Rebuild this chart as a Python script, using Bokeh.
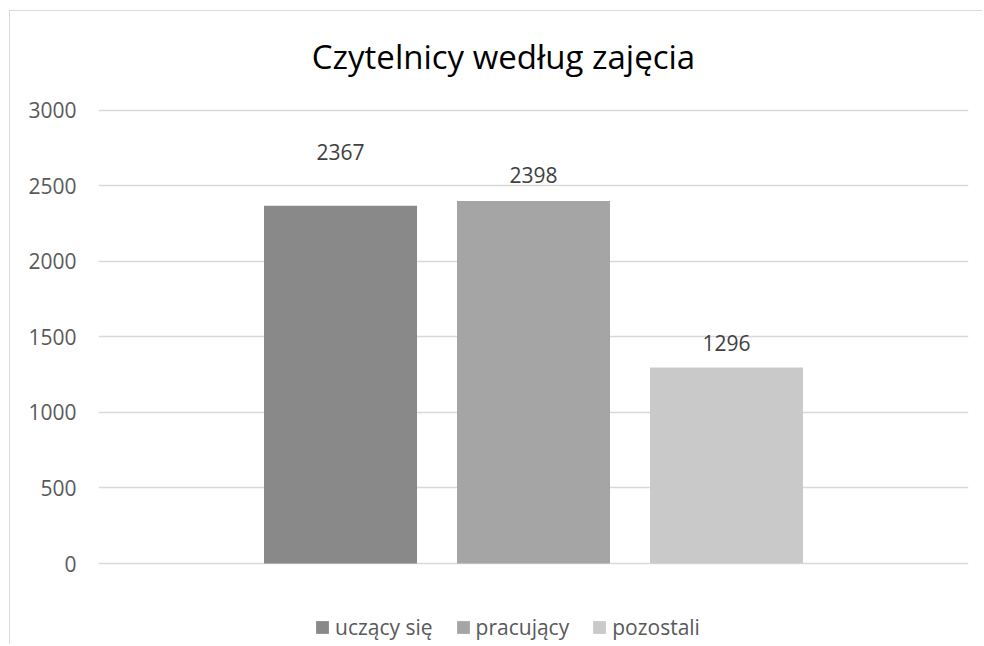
from bokeh.plotting import figure
from bokeh.models import ColumnDataSource, FactorRange, Range1d, Legend, LegendItem
from bokeh.core.properties import value
from bokeh.embed import file_html
from bokeh.resources import INLINE

# ---- data ----
title_text = "Czytelnicy według zajęcia"
categories = ["uczący się", "pracujący", "pozostali"]
counts = [2367, 2398, 1296]
colors = ["#898989", "#a5a5a5", "#c9c9c9"]
label_offsets = [-54, -26, -25]   # style: vertical label offsets in px
y_ticks = [0, 500, 1000, 1500, 2000, 2500, 3000]

FONT = "Open Sans"

# ---- layout constants (pixels) ----
W, H = 973, 634
PX_PER_UNIT = 453.5 / 3000.0
ZERO_PX_FROM_TOP = 552.0
y_start = -(H - ZERO_PX_FROM_TOP) / PX_PER_UNIT
y_end = ZERO_PX_FROM_TOP / PX_PER_UNIT

src = ColumnDataSource(dict(
    cat=categories, val=counts, color=colors,
    txt=[str(v) for v in counts], off=label_offsets,
))

p = figure(
    width=W, height=H,
    x_range=FactorRange(factors=categories, range_padding=0.5026),
    y_range=Range1d(y_start, y_end),
    output_backend="svg", toolbar_location=None,
    min_border_left=88, min_border_right=15, min_border_top=0, min_border_bottom=0,
    background_fill_color="white", border_fill_color="white",
    outline_line_color=None,
)
p.styles = {
    "margin-left": "9px", "margin-top": "10px",
    "border-left": "1.5px solid #d9d9d9", "border-top": "1.5px solid #d9d9d9",
}

r = p.vbar(x="cat", top="val", bottom=0, width=153/193, color="color",
           source=src, line_color=None)

p.text(x="cat", y="val", text="txt", y_offset="off", source=src,
       text_align="center", text_baseline="middle",
       text_font=value(FONT), text_font_size="21px", text_color="#404040")

# title (drawn as text anchored to the top of the plot area)
p.text(x=[categories[1]], y=[y_end], text=[title_text], x_offset=-30, y_offset=45,
       text_align="center", text_baseline="alphabetic",
       text_font=value(FONT), text_font_size="33px", text_color="#000000")

# axes
p.xaxis.visible = False
ya = p.yaxis[0]
ya.ticker = y_ticks
ya.axis_line_color = None
ya.major_tick_line_color = None
ya.minor_tick_line_color = None
ya.major_tick_out = 0
ya.major_tick_in = 0
ya.major_label_standoff = 22
ya.major_label_text_font = FONT
ya.major_label_text_font_size = "21px"
ya.major_label_text_color = "#595959"

p.xgrid.visible = False
p.ygrid.grid_line_color = "#d9d9d9"
p.ygrid.grid_line_width = 1.5
p.ygrid.ticker = y_ticks

# legend
legend = Legend(
    items=[LegendItem(label=categories[i], renderers=[r], index=i) for i in range(3)],
    orientation="horizontal",
    location=(216, 4),
    glyph_width=16, glyph_height=16,
    label_standoff=5, spacing=22, padding=0, margin=0,
    label_text_font=FONT, label_text_font_size="21px", label_text_color="#595959",
    border_line_color=None, background_fill_alpha=0,
)
p.add_layout(legend, "center")

open("out.html", "w").write(file_html(p, INLINE))
